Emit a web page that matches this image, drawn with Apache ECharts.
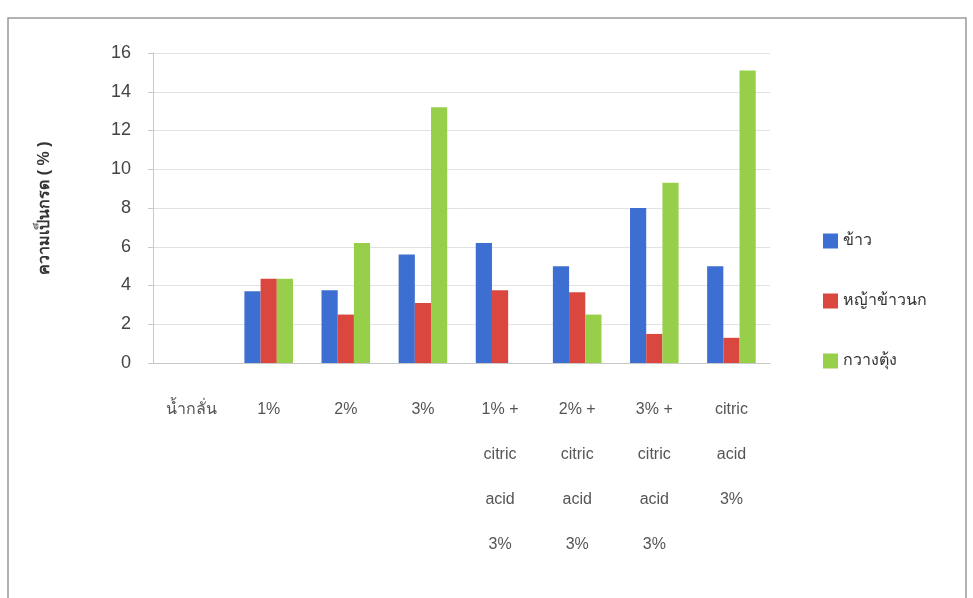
<!DOCTYPE html>
<html><head><meta charset="utf-8">
<script src="https://cdn.jsdelivr.net/npm/echarts@6/dist/echarts.min.js"></script>
<style>html,body{margin:0;padding:0;background:#fff}#c{width:973px;height:598px}</style>
</head><body><div id="c"></div>
<script>
const categories = ['น้ำกลั่น', '1%', '2%', '3%', '1% +\ncitric\nacid\n3%', '2% +\ncitric\nacid\n3%', '3% +\ncitric\nacid\n3%', 'citric\nacid\n3%'];
const seriesNames = ['ข้าว', 'หญ้าข้าวนก', 'กวางตุ้ง'];
const rice = [0, 3.7, 3.75, 5.6, 6.2, 5.0, 8.0, 5.0];
const grass = [0, 4.35, 2.5, 3.1, 3.75, 3.65, 1.5, 1.3];
const choySum = [0, 4.35, 6.2, 13.2, 0, 2.5, 9.3, 15.1];
const yTicks = { min: 0, max: 16, interval: 2 };
const yTitle = 'ความเป็นกรด ( % )';
const colors = ['#3c6fd1', '#d9473f', '#98cf4a'];

const chart = echarts.init(document.getElementById('c'));
const font = "'Liberation Sans', 'Noto Sans', 'DejaVu Sans', sans-serif";
chart.setOption({
  animation: false,
  backgroundColor: '#ffffff',
  color: colors,
  textStyle: { fontFamily: font },
  graphic: [{
    type: 'rect', shape: { x: 8, y: 18, width: 958, height: 620 },
    style: { fill: 'none', stroke: '#9a9a9a', lineWidth: 1.5 }, silent: true, z: -1
  }],
  grid: { left: 153, right: 203, top: 53, bottom: 235 },
  legend: {
    orient: 'vertical', left: 818, top: 228, itemWidth: 15, itemHeight: 15,
    itemGap: 44, icon: 'rect',
    textStyle: { fontSize: 16, color: '#333', fontFamily: font }
  },
  xAxis: {
    type: 'category', data: categories,
    axisLine: { show: true, lineStyle: { color: '#c8c8c8' } },
    axisTick: { show: false },
    axisLabel: { interval: 0, margin: 24, fontSize: 16, lineHeight: 45, color: '#555', fontFamily: font, verticalAlign: 'top' }
  },
  yAxis: {
    type: 'value', min: yTicks.min, max: yTicks.max, interval: yTicks.interval,
    name: yTitle, nameLocation: 'middle', nameGap: 100, nameRotate: 90,
    nameTextStyle: { fontSize: 16, fontWeight: 'bold', color: '#333', fontFamily: font },
    axisLine: { show: true, lineStyle: { color: '#c8c8c8' } },
    axisTick: { show: true, length: 5, lineStyle: { color: '#c8c8c8' } },
    axisLabel: { fontSize: 18, color: '#444', margin: 22, fontFamily: font },
    splitLine: { lineStyle: { color: '#e2e2e2' } }
  },
  series: [
    { name: seriesNames[0], type: 'bar', data: rice, barGap: '0%', barCategoryGap: '37%' },
    { name: seriesNames[1], type: 'bar', data: grass, barGap: '0%', barCategoryGap: '37%' },
    { name: seriesNames[2], type: 'bar', data: choySum, barGap: '0%', barCategoryGap: '37%' }
  ]
});
</script></body></html>
